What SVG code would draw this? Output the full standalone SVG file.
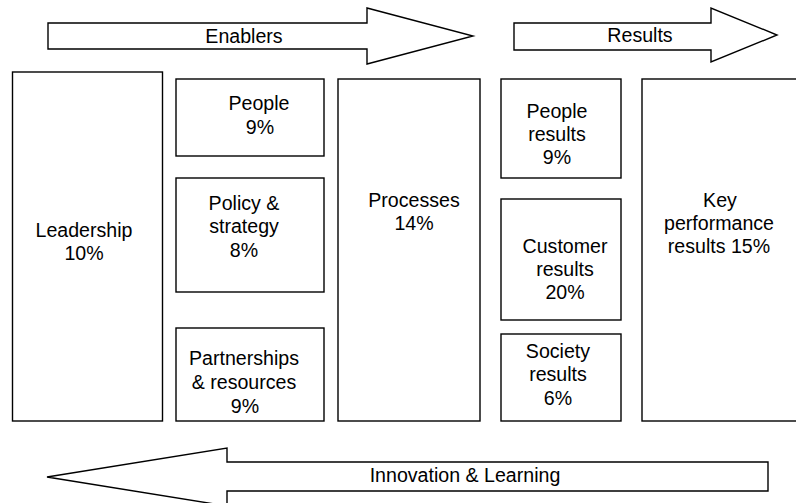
<svg xmlns="http://www.w3.org/2000/svg" width="796" height="503" viewBox="0 0 796 503">
<style>
.b{fill:#fff;stroke:#000;stroke-width:1.4}
.a{fill:#fff;stroke:#000;stroke-width:1.4;stroke-linejoin:miter}
text{font-family:"Liberation Sans",Arial,sans-serif;font-size:19.6px;fill:#000;text-anchor:middle}
</style>
<rect width="796" height="503" fill="#fff"/>
<g id="connectors">
<g id="enablers"><polygon class="a" points="48,23 367,23 367,8 473,36 367,64 367,49 48,49"/><text x="244" y="43">Enablers</text></g>
<g id="results"><polygon class="a" points="514,23 711,23 711,8 777,35 711,62 711,50 514,50"/><text x="640" y="42">Results</text></g>
<g id="innovation"><polygon class="a" points="768,462 227,462 227,448 47,477 227,506 227,491 768,491"/><text x="465" y="482">Innovation &amp; Learning</text></g>
</g>
<g id="leadership"><rect class="b" x="12.5" y="72" width="150" height="349"/><text x="84" y="237">Leadership</text><text x="84" y="260">10%</text></g>
<g id="people"><rect class="b" x="176" y="79" width="148" height="77"/><text x="259" y="110">People</text><text x="260" y="134">9%</text></g>
<g id="policy"><rect class="b" x="176" y="178" width="148" height="114"/><text x="244" y="210">Policy &amp;</text><text x="244" y="233">strategy</text><text x="244" y="257">8%</text></g>
<g id="partnerships"><rect class="b" x="176" y="328" width="148" height="93"/><text x="244" y="365">Partnerships</text><text x="244" y="389">&amp; resources</text><text x="245" y="413">9%</text></g>
<g id="processes"><rect class="b" x="338" y="79" width="142" height="342"/><text x="414" y="207">Processes</text><text x="414" y="230">14%</text></g>
<g id="people-results"><rect class="b" x="501" y="79" width="120" height="99"/><text x="557" y="118">People</text><text x="557" y="141">results</text><text x="557" y="164">9%</text></g>
<g id="customer-results"><rect class="b" x="501" y="199" width="120" height="121"/><text x="565" y="253">Customer</text><text x="565" y="276">results</text><text x="565" y="299">20%</text></g>
<g id="society-results"><rect class="b" x="501" y="334" width="120" height="87"/><text x="558" y="358">Society</text><text x="558" y="381">results</text><text x="558" y="405">6%</text></g>
<g id="key-performance"><rect class="b" x="642" y="79" width="170" height="342"/><text x="720" y="207">Key</text><text x="719" y="230">performance</text><text x="719" y="253">results 15%</text></g>
</svg>
